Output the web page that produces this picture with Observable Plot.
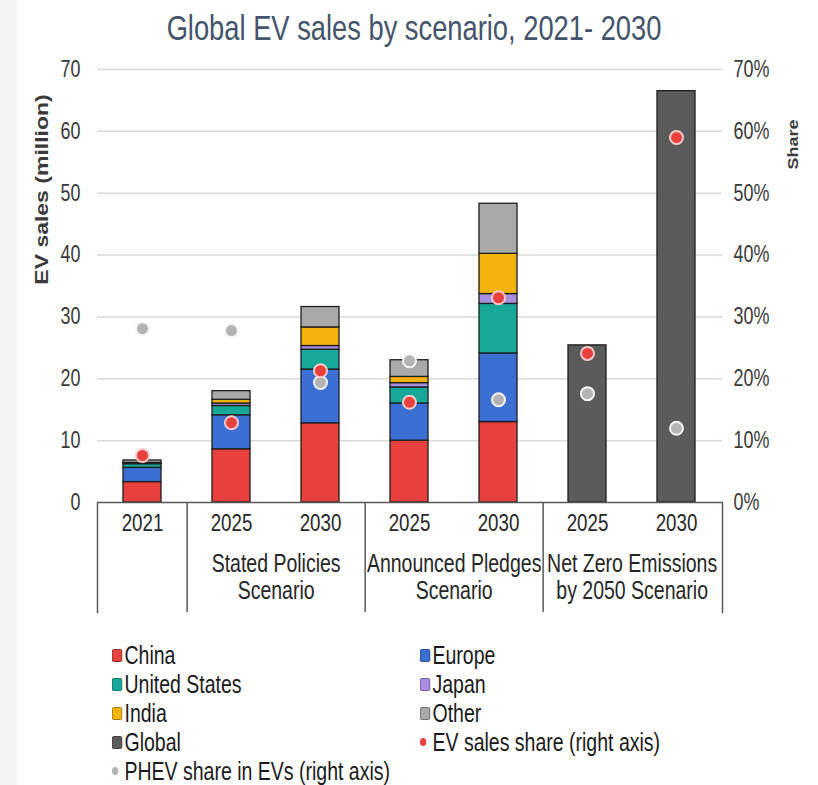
<!DOCTYPE html>
<html><head><meta charset="utf-8">
<script src="https://cdn.jsdelivr.net/npm/d3@7"></script>
<script src="https://cdn.jsdelivr.net/npm/@observablehq/plot@0.6"></script>
<style>
  body { margin:0; background:#fff; font-family:"Liberation Sans",Arial,sans-serif; }
  #wrap { position:relative; width:818px; height:785px; overflow:hidden; }
  #strip { position:absolute; left:0; top:0; width:17px; height:785px; background:#f3f3f3; }
  #title { position:absolute; left:414px; top:8px; font-size:35px; line-height:40px; color:#44546a; white-space:nowrap;
           transform:translateX(-50%) scaleX(0.78); transform-origin:50% 50%; }
  #main { position:absolute; left:0; top:50px; }
  #cats { position:absolute; left:0; top:502px; }
  #legend { position:absolute; left:0; top:640px; width:818px; }
  .li { position:absolute; font-size:25px; color:#1a1a1a; white-space:nowrap; line-height:26px;
        transform:scaleX(0.78); transform-origin:0 50%; }
  .sw { display:inline-block; width:11px; height:11px; border:1.8px solid; border-radius:2px; margin-right:3px; vertical-align:2px; }
  .dt { display:inline-block; width:8px; height:8px; border-radius:50%; margin-right:8px; vertical-align:5px; }
  svg { background:transparent !important; overflow:visible; }
</style>
</head><body>
<div id="wrap">
  <div id="strip"></div>
  <div id="title">Global EV sales by scenario, 2021- 2030</div>
  <div id="main"></div>
  <div id="cats"></div>
  <div id="legend"></div>
</div>
<script>
// ---- data ----
const keys = ["2021", "STEPS 2025", "STEPS 2030", "APS 2025", "APS 2030", "NZE 2025", "NZE 2030"];
const yearLabels = ["2021", "2025", "2030", "2025", "2030", "2025", "2030"];
const series = ["China", "Europe", "United States", "Japan", "India", "Other", "Global"];
const china = [3.3, 8.6, 12.8, 10.0, 13.0, 0, 0];
const europe = [2.3, 5.5, 8.7, 6.0, 11.1, 0, 0];
const unitedStates = [0.6, 1.5, 3.2, 2.6, 8.0, 0, 0];
const japan = [0.1, 0.4, 0.6, 0.7, 1.6, 0, 0];
const india = [0.1, 0.6, 3.0, 1.0, 6.5, 0, 0];
const other = [0.4, 1.4, 3.3, 2.7, 8.1, 0, 0];
const global = [0, 0, 0, 0, 0, 25.4, 66.5];
const evShare = [7.6, 12.9, 21.3, 16.2, 33.1, 24.1, 59.0];   // %
const phevShare = [28.1, 27.8, 19.4, 22.9, 16.6, 17.6, 12.0]; // %
const groupStartKeys = ["STEPS 2025", "APS 2025", "NZE 2025"];
const groupLabels = ["Stated Policies\nScenario", "Announced Pledges\nScenario", "Net Zero Emissions\nby 2050 Scenario"];
const separatorAfterKeys = ["2021", "STEPS 2030", "APS 2030"];
const yTicks = [0, 10, 20, 30, 40, 50, 60, 70];

const colors = ["#e8413e", "#3b6fd4", "#17a89a", "#a88ee0", "#f2b30c", "#a9a9a9", "#5b5b5b"];
const strokes = ["#8a2323", "#1f3f84", "#0d6a60", "#6a52a0", "#9a7000", "#666666", "#333333"];

// ---- build tables ----
const values = [china, europe, unitedStates, japan, india, other, global];
const stackRows = [];
series.forEach((s, si) => keys.forEach((k, ki) => {
  if (values[si][ki] > 0) stackRows.push({key: k, series: s, value: values[si][ki]});
}));
const shareRows = keys.map((k, i) => ({key: k, ev: evShare[i], phev: phevShare[i]}));

const W = 818, ML = 97, MR = 96;
const PI = 0.57, PO = 0.285;
const step = (W - ML - MR) / (keys.length - PI + 2 * PO);
const FONT = '"Liberation Sans",Arial,sans-serif';
const SQ = 0.78; // horizontal squeeze of the lettering

const xScale = {type: "band", domain: keys, paddingInner: PI, paddingOuter: PO, axis: null};

const main = Plot.plot({
  width: W, height: 462,
  marginLeft: ML, marginRight: MR, marginTop: 19, marginBottom: 10,
  style: {fontFamily: FONT, background: "transparent", overflow: "visible"},
  x: xScale,
  y: {domain: [0, 70], axis: null},
  color: {domain: series, range: colors},
  marks: [
    Plot.ruleY(yTicks.filter(d => d > 0), {stroke: "#d9d9d9", strokeWidth: 1.5}),
    Plot.barY(stackRows, {x: "key", y: "value", fill: "series", stroke: "#1e1e1e", strokeWidth: 1.3}),
    Plot.ruleY([0], {stroke: "#595959", strokeWidth: 1.5}),
    Plot.axisY({anchor: "left", ticks: yTicks, tickSize: 0, tickPadding: 17, fontSize: 23, color: "#3a3a3a", label: null}),
    Plot.axisY({anchor: "right", ticks: yTicks, tickSize: 0, tickPadding: 11, fontSize: 23, color: "#3a3a3a", label: null, tickFormat: d => d + "%"}),
    Plot.dot(shareRows, {x: "key", y: "phev", r: 6.5, fill: "#b4b4b4", stroke: "#f4f4f4", strokeWidth: 2}),
    Plot.dot(shareRows, {x: "key", y: "ev", r: 6.5, fill: "#e8413e", stroke: "#f7cccc", strokeWidth: 2}),
    Plot.text(["EV sales (million)"], {frameAnchor: "top-left", rotate: -90, textAnchor: "middle", lineAnchor: "middle", dx: -55, dy: 120, fontSize: 23, fontWeight: "bold", fill: "#3a3a3a"}),
    Plot.text(["Share"], {frameAnchor: "top-right", rotate: -90, textAnchor: "middle", lineAnchor: "middle", dx: 71, dy: 75, fontSize: 18, fontWeight: "bold", fill: "#3a3a3a"})
  ]
});
document.getElementById("main").appendChild(main);

const cats = Plot.plot({
  width: W, height: 110,
  marginLeft: ML, marginRight: MR, marginTop: 0, marginBottom: 0,
  style: {fontFamily: FONT, background: "transparent", overflow: "visible"},
  x: xScale,
  marks: [
    Plot.frame({anchor: "left", stroke: "#595959", strokeWidth: 1.5}),
    Plot.frame({anchor: "right", stroke: "#595959", strokeWidth: 1.5}),
    Plot.ruleX(separatorAfterKeys, {x: d => d, dx: step / 2, stroke: "#595959", strokeWidth: 1.5}),
    Plot.text(keys, {x: d => d, text: (d, i) => yearLabels[i], frameAnchor: "top", lineAnchor: "middle", dy: 21, fontSize: 24, fill: "#262626"}),
    Plot.text(groupStartKeys, {x: d => d, text: (d, i) => groupLabels[i], dx: step / 2, frameAnchor: "top", lineAnchor: "middle", dy: 74, lineHeight: 1.08, fontSize: 25, fill: "#262626"})
  ]
});
document.getElementById("cats").appendChild(cats);

// squeeze the lettering horizontally (narrow face look), around each label's anchor
for (const svg of [main, cats]) {
  svg.querySelectorAll("text").forEach(t => {
    const tr = t.getAttribute("transform");
    const rotated = tr && tr.includes("rotate");
    const sc = rotated ? `scale(1,${SQ})` : `scale(${SQ},1)`;
    if (tr) t.setAttribute("transform", tr + " " + sc);
    else {
      const x = +t.getAttribute("x") || 0, y = +t.getAttribute("y") || 0;
      t.setAttribute("transform", `translate(${x},${y}) ${sc} translate(${-x},${-y})`);
    }
  });
}

// ---- legend ----
const legendItems = [
  {label: "China", type: "sq", c: 0, col: 0, row: 0},
  {label: "Europe", type: "sq", c: 1, col: 1, row: 0},
  {label: "United States", type: "sq", c: 2, col: 0, row: 1},
  {label: "Japan", type: "sq", c: 3, col: 1, row: 1},
  {label: "India", type: "sq", c: 4, col: 0, row: 2},
  {label: "Other", type: "sq", c: 5, col: 1, row: 2},
  {label: "Global", type: "sq", c: 6, col: 0, row: 3},
  {label: "EV sales share (right axis)", type: "dot", fill: "#e8413e", col: 1, row: 3},
  {label: "PHEV share in EVs (right axis)", type: "dot", fill: "#b4b4b4", col: 0, row: 4}
];
const leg = document.getElementById("legend");
legendItems.forEach(it => {
  const d = document.createElement("div");
  d.className = "li";
  d.style.left = (it.col ? 420 : 112) + "px";
  d.style.top = (2 + it.row * 29) + "px";
  const m = document.createElement("span");
  if (it.type === "sq") {
    m.className = "sw";
    m.style.background = colors[it.c];
    m.style.borderColor = strokes[it.c];
  } else {
    m.className = "dt";
    m.style.background = it.fill;
  }
  d.appendChild(m);
  d.appendChild(document.createTextNode(it.label));
  leg.appendChild(d);
});
</script>
</body></html>
